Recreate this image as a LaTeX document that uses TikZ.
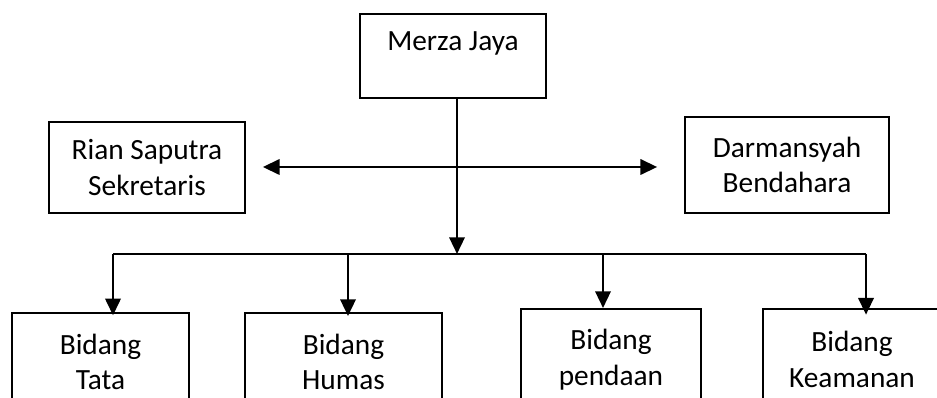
\documentclass[tikz,border=0pt]{standalone}
\usepackage{fontspec}
\setmainfont{Carlito}
\usetikzlibrary{arrows.meta}

\begin{document}
\begin{tikzpicture}[
  x=0.75pt, y=-0.75pt,
  box/.style={draw, line width=1.3pt, align=center, inner sep=0pt, font=\fontsize{22}{26.5}\selectfont},
  arr/.style={-{Triangle[length=12.5pt, width=11.5pt]}, line width=1.8pt},
  bus/.style={line width=0.9pt}
]
\useasboundingbox (0,0) rectangle (937,398);
\clip (0,0) rectangle (937,398);
\node[box, anchor=north, minimum width=139.5pt, text height=27.75pt, text depth=35.25pt] (ketua) at (453,13) {Merza Jaya};
\node[box, minimum width=147pt, minimum height=68.25pt] (sekretaris) at (147,167.5) {Rian Saputra\\Sekretaris};
\node[box, minimum width=153pt, minimum height=72pt] (bendahara) at (787,165) {Darmansyah\\Bendahara};
\node[box, anchor=north, minimum width=132.75pt, minimum height=73.5pt] (tata) at (100.5,312) {Bidang\\Tata};
\node[box, anchor=north, minimum width=147.75pt, minimum height=73.5pt] (humas) at (343.5,312) {Bidang\\Humas};
\node[box, anchor=north, minimum width=135pt, minimum height=76pt] (pendaan) at (611,308) {Bidang\\pendaan};
\node[box, anchor=north, minimum width=133.5pt, minimum height=76pt] (keamanan) at (852,308) {Bidang\\Keamanan};
\coordinate (hub) at (457,254);
\coordinate (mid) at (457,167);
\coordinate (d1) at (113,254);
\coordinate (d2) at (348,254);
\coordinate (d3) at (603,254);
\coordinate (d4) at (866,254);
\draw[arr] (ketua.south -| hub) -- (hub);
\draw[arr, shorten >=12.75pt] (mid) -- (mid -| sekretaris.east);
\draw[arr, shorten >=20.25pt] (mid) -- (mid -| bendahara.west);
\draw[bus] (d1) -- (d4);
\draw[arr, shorten >=-2.5pt] (d1) -- (d1 |- tata.north);
\draw[arr, shorten >=-3pt] (d2) -- (d2 |- humas.north);
\draw[arr] (d3) -- (d3 |- pendaan.north);
\draw[arr, shorten >=-5pt] (d4) -- (d4 |- keamanan.north);
\end{tikzpicture}
\end{document}
